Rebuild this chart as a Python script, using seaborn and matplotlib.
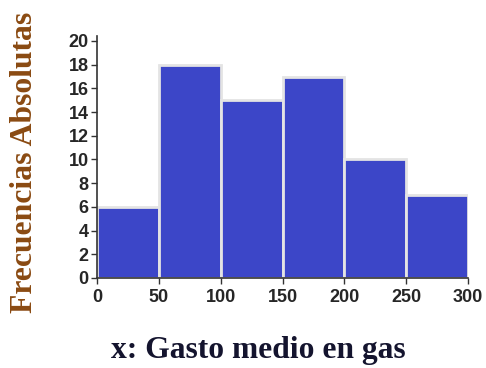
import matplotlib
matplotlib.use("Agg")
import matplotlib.pyplot as plt
import numpy as np
import seaborn as sns

# --- data ---
bin_edges = [0, 50, 100, 150, 200, 250, 300]
frecuencias = [6, 18, 15, 17, 10, 7]
y_ticks = list(range(0, 21, 2))
x_ticks = [0, 50, 100, 150, 200, 250, 300]

centros = (np.array(bin_edges[:-1]) + np.array(bin_edges[1:])) / 2

sns.set_style("ticks")

fig = plt.figure(figsize=(4.86, 3.68), dpi=100)
ax = fig.add_axes([0.1996, 0.2446, 0.7634, 0.657])

sns.histplot(x=centros, weights=frecuencias, bins=bin_edges, ax=ax,
             color='#3c46c8', alpha=1.0, edgecolor='#e4e4e4', linewidth=2.0)

ax.set_xlim(0, 300)
ax.set_ylim(0, 20.4)
ax.set_xticks(x_ticks)
ax.set_yticks(y_ticks)
for lab in ax.get_xticklabels() + ax.get_yticklabels():
    lab.set_family('Liberation Sans')
    lab.set_fontweight('bold')
    lab.set_fontsize(13)
ax.tick_params(axis='both', length=4, width=1, color='#333333', pad=2)
ax.tick_params(axis='x', pad=4)

for s in ['top', 'right']:
    ax.spines[s].set_visible(False)
for s in ['left', 'bottom']:
    ax.spines[s].set_color('#333333')
    ax.spines[s].set_linewidth(1.2)

ax.set_xlabel('')
ax.set_ylabel('')
fig.text(0.531, 0.027, 'x: Gasto medio en gas', ha='center', va='baseline',
         family='Liberation Serif', fontweight='bold', fontsize=22.7, color='#14142e')
fig.text(0.05, 0.56, 'Frecuencias Absolutas', ha='center', va='center', rotation=90,
         family='Liberation Serif', fontweight='bold', fontsize=22.8, color='#8a4a12')

fig.savefig('out.png', dpi=100)
